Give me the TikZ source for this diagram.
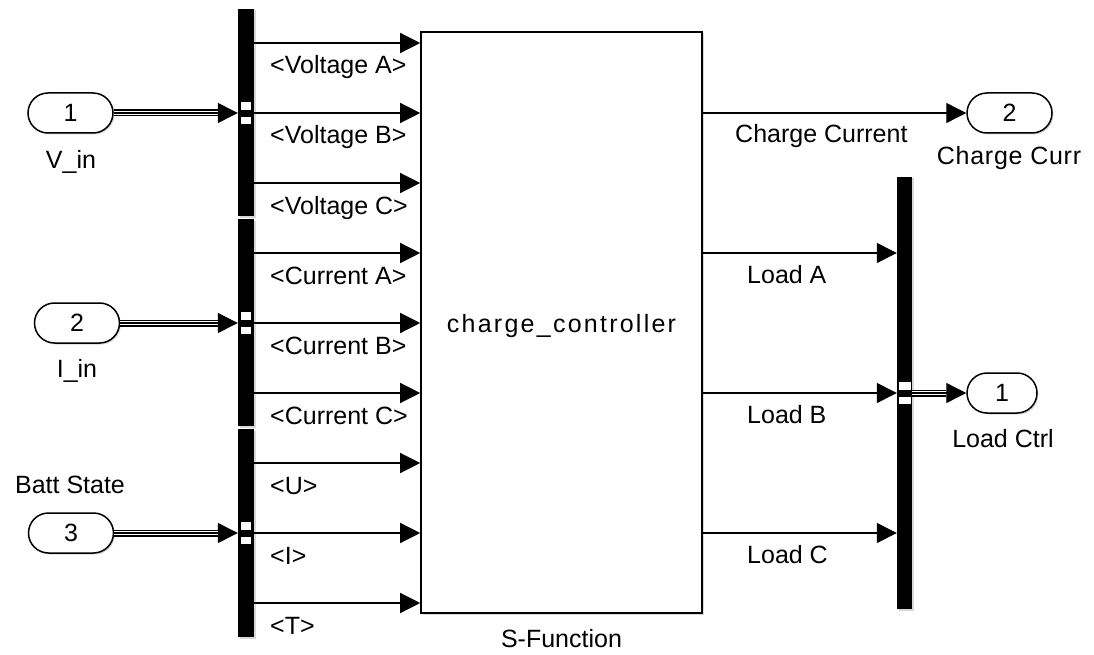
\documentclass[tikz,border=0pt]{standalone}
\usepackage{fontspec}
\setmainfont{Liberation Sans}
\usetikzlibrary{arrows.meta,calc,shadows}
\begin{document}
\begin{tikzpicture}[x=1pt,y=-1pt,
  font=\fontsize{25}{30}\selectfont,
  busbar/.style={fill=black,draw=none,inner sep=0pt,minimum width=16pt,
    drop shadow={shadow xshift=1.5pt,shadow yshift=-1.5pt,opacity=0.3}},
  sig/.style={line width=1.3pt,-{Triangle[length=20pt,width=20pt]}},
  trip/.style={line width=1.2pt,preaction={draw,line width=7pt},
    preaction={draw=white,line width=4.4pt}},
  portbox/.style={draw,line width=1.5pt,rounded corners=20pt,minimum height=40pt,
    inner sep=0pt,fill=white,
    drop shadow={shadow xshift=1.5pt,shadow yshift=-1.5pt,opacity=0.3}},
  lbl/.style={anchor=base west,inner sep=0pt},
  ctext/.style={anchor=base,inner sep=0pt},
  busmark/.style={fill=white,draw=none}
]
\useasboundingbox[fill=white] (0,0) rectangle (1094,655);

% main block
\node[draw,line width=1.6pt,minimum width=281pt,minimum height=581pt,inner sep=0pt,
  fill=white,drop shadow={shadow xshift=1.5pt,shadow yshift=-1.5pt,opacity=0.3}] (blk) at (561.5,322.5) {};
\node[ctext] (blkname) at (561.5,332) {\addfontfeatures{LetterSpace=9}charge\_controller};
\node[ctext] (blkcap) at (561.5,647) {S-Function};

% bus selector bars
\node[busbar,minimum height=207pt] (bar1) at (246,112.5) {};
\node[busbar,minimum height=207pt] (bar2) at (246,322.5) {};
\node[busbar,minimum height=208pt] (bar3) at (246,533) {};
\node[busbar,minimum width=15pt,minimum height=432pt] (rbar) at (904.5,393) {};

% input ports
\node[portbox,minimum width=85pt] (p1) at (70.5,113) {1};
\node[portbox,minimum width=85pt] (p2) at (77,323) {2};
\node[portbox,minimum width=85pt] (p3) at (71,533) {3};
\node[ctext] (p1n) at (71,168) {V\_in};
\node[ctext] (p2n) at (77,377) {I\_in};
\node[ctext] (p3n) at (70,493) {Batt State};

% output ports
\node[portbox,minimum width=85pt] (o2) at (1009.5,113) {2};
\node[portbox,minimum width=70pt] (o1) at (1002,393) {1};
\node[ctext] (o2n) at (1009,165) {\addfontfeatures{LetterSpace=3}Charge Curr};
\node[ctext] (o1n) at (1003,447) {Load Ctrl};

% bus lines into selectors
\foreach \p/\b in {p1/bar1,p2/bar2,p3/bar3}{
  \draw[trip] (\p.east) -- ($(\b.west |- \p.east)+(-20,0)$);
  \draw[sig] ($(\b.west |- \p.east)+(-20,0)$) -- (\b.west |- \p.east);
  \fill[busmark] ($(\b.center |- \p.east)+(-5,-11)$) rectangle +(10,8);
  \fill[busmark] ($(\b.center |- \p.east)+(-5,4)$) rectangle +(10,7);
}

% selected signals
\foreach \b/\y/\t in {bar1/43/{<Voltage A>},bar1/113/{<Voltage B>},bar1/183/{<Voltage C>},
  bar2/253/{<Current A>},bar2/323/{<Current B>},bar2/393/{<Current C>},
  bar3/463/{<U>},bar3/533/{<I>},bar3/603/{<T>}}{
  \draw[sig] (\b.east |- 0,\y) -- (blk.west |- 0,\y);
  \node[lbl] (l\y) at (270,\y+31) {\t};
}

% outputs
\draw[sig] (blk.east |- o2.west) -- (o2.west);
\node[lbl] (lcc) at (735,143) {Charge Current};
\foreach \y/\t in {253/{Load A},393/{Load B},533/{Load C}}{
  \draw[sig] (blk.east |- 0,\y) -- (rbar.west |- 0,\y);
  \node[lbl] (lo\y) at (747,\y+30) {\t};
}
\draw[trip] (rbar.east |- o1.west) -- ($(o1.west)+(-20,0)$);
\draw[sig] ($(o1.west)+(-20,0)$) -- (o1.west);
\fill[busmark] ($(rbar.center |- o1.west)+(-6,-11)$) rectangle +(12,8);
\fill[busmark] ($(rbar.center |- o1.west)+(-6,4)$) rectangle +(12,7);
\end{tikzpicture}
\end{document}
